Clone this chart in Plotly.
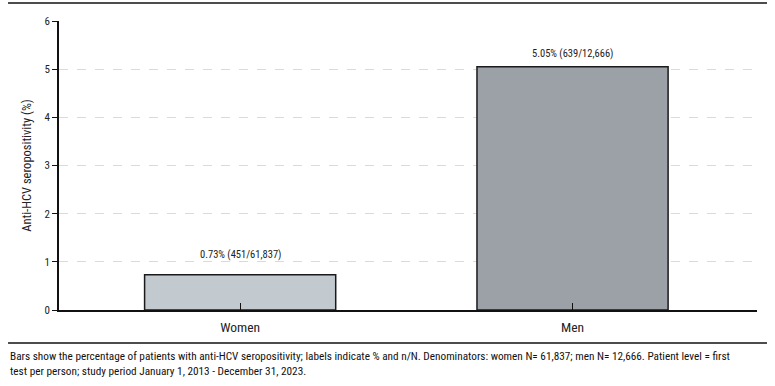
import plotly.graph_objects as go

categories = ["Women", "Men"]
percent = [0.73, 5.05]
positives = [451, 639]
totals = [61837, 12666]
bar_colors = ["#c2cacf", "#9ba1a7"]

labels = [f"{p:.2f}% ({n}/{t:,})" for p, n, t in zip(percent, positives, totals)]
label_shift = [20, 13]

FONT = "Liberation Sans Narrow, Arial Narrow, Roboto Condensed, Liberation Sans, sans-serif"

fig = go.Figure()
fig.add_trace(go.Bar(
    x=categories, y=percent, width=0.575,
    marker=dict(color=bar_colors, line=dict(color="#1a1a1a", width=1.5)),
    hoverinfo="skip",
))

for c, p, lab, s in zip(categories, percent, labels, label_shift):
    fig.add_annotation(x=c, y=p, text=lab, showarrow=False, yshift=s,
                       yanchor="middle", font=dict(size=10.5, color="#222", family=FONT))

fig.update_layout(
    width=775, height=386,
    margin=dict(l=59, r=18, t=21, b=76),
    paper_bgcolor="white", plot_bgcolor="white",
    showlegend=False,
    font=dict(family=FONT, color="#222"),
    xaxis=dict(
        range=[-0.545, 1.555], showline=True, linecolor="#111", linewidth=1.5,
        ticks="inside", ticklen=7, tickcolor="#111", tickwidth=1,
        ticklabelstandoff=4,
        tickfont=dict(size=13.5, color="#222", family=FONT), showgrid=False,
    ),
    yaxis=dict(
        range=[0, 6], dtick=1, showline=True, linecolor="#111", linewidth=1.5,
        ticks="outside", ticklen=5, tickcolor="#111",
        tickfont=dict(size=11, color="#222", family=FONT),
        showgrid=True, gridcolor="#dadada", griddash="dash", gridwidth=1,
        zeroline=False,
        title=dict(text="Anti-HCV seropositivity (%)", font=dict(size=12.5, family=FONT), standoff=10),
    ),
)

fig.add_shape(type="line", xref="paper", yref="paper", x0=-0.073, x1=1.0143,
              y0=1.0623, y1=1.0623, line=dict(color="#111", width=1.5))
fig.add_shape(type="line", xref="paper", yref="paper", x0=-0.073, x1=1.0143,
              y0=-0.114, y1=-0.114, line=dict(color="#111", width=1.5))

fig.add_annotation(
    xref="paper", yref="paper", x=-0.073, y=-0.132, xanchor="left", yanchor="top",
    align="left", showarrow=False,
    text=("Bars show the percentage of patients with anti-HCV seropositivity; labels indicate % and n/N. "
          "Denominators: women N= 61,837; men N= 12,666. Patient level = first<br>"
          "test per person; study period January 1, 2013 - December 31, 2023."),
    font=dict(size=11.25, color="#111", family=FONT),
)

fig.write_html("out.html", post_script="document.body.style.margin='0';",
               config={"displayModeBar": False})
